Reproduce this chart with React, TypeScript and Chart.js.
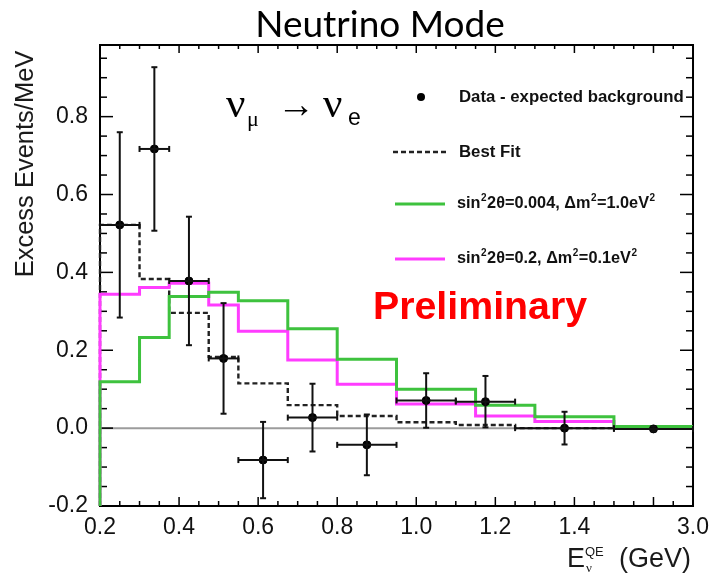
import React, { useEffect, useRef } from "react";
import { Chart, registerables } from "chart.js";
Chart.register(...registerables);

// X is displayed linearly up to 1.5 GeV; the last bin (1.5–3.0 GeV) is compressed into 1.5–1.7 on the axis.
const dataBinEdges = [0.2, 0.3, 0.375, 0.475, 0.55, 0.675, 0.8, 0.95, 1.1, 1.25, 1.5, 1.7];
const dataX = [0.25, 0.3375, 0.425, 0.5125, 0.6125, 0.7375, 0.875, 1.025, 1.175, 1.375, 1.6];
const dataY = [0.522, 0.717, 0.378, 0.179, -0.082, 0.027, -0.043, 0.071, 0.068, 0.0, -0.002];
const dataErr = [0.238, 0.21, 0.165, 0.142, 0.098, 0.087, 0.078, 0.07, 0.066, 0.042, 0.006];
const bestFit = [0.522, 0.383, 0.296, 0.183, 0.115, 0.059, 0.031, 0.015, 0.008, 0.0, 0.0];
const modelBinEdges = [0.2, 0.3, 0.375, 0.475, 0.55, 0.675, 0.8, 0.95, 1.15, 1.3, 1.5, 1.7];
const greenModel = [0.119, 0.233, 0.338, 0.349, 0.327, 0.255, 0.177, 0.1, 0.059, 0.029, 0.004];
const magentaModel = [0.344, 0.361, 0.372, 0.316, 0.249, 0.175, 0.113, 0.062, 0.031, 0.017, 0.002];
const xTickValues = [0.2, 0.4, 0.6, 0.8, 1.0, 1.2, 1.4, 1.7];
const xTickLabels = ["0.2", "0.4", "0.6", "0.8", "1.0", "1.2", "1.4", "3.0"];
const yTickValues = [-0.2, 0, 0.2, 0.4, 0.6, 0.8];
const yTickLabels = ["-0.2", "0.0", "0.2", "0.4", "0.6", "0.8"];
const seriesLabels = [
  "Data - expected background",
  "Best Fit",
  "sin²2θ=0.004, Δm²=1.0eV²",
  "sin²2θ=0.2, Δm²=0.1eV²",
];

const SANS = "'Liberation Sans', Arial, Helvetica, sans-serif";
const SERIF = "'Liberation Serif', 'Times New Roman', serif";
const GREEN = "#3ec23e";
const MAGENTA = "#ff3cff";

function histPoints(edges: number[], vals: number[], base: number) {
  const pts = [{ x: edges[0], y: base }];
  vals.forEach((v, i) => pts.push({ x: edges[i], y: v }));
  pts.push({ x: edges[edges.length - 1], y: vals[vals.length - 1] });
  return pts;
}

function line(ctx: CanvasRenderingContext2D, x1: number, y1: number, x2: number, y2: number) {
  ctx.beginPath();
  ctx.moveTo(x1, y1);
  ctx.lineTo(x2, y2);
  ctx.stroke();
}

// draw text with superscripts "²" rendered as small raised "2"
function drawRich(ctx: CanvasRenderingContext2D, text: string, x: number, y: number, size: number) {
  ctx.textBaseline = "middle";
  ctx.textAlign = "left";
  let cx = x;
  const parts = text.split("²");
  parts.forEach((p, i) => {
    ctx.font = `bold ${size}px ${SANS}`;
    ctx.fillText(p, cx, y);
    cx += ctx.measureText(p).width;
    if (i < parts.length - 1) {
      ctx.font = `bold ${Math.round(size * 0.6)}px ${SANS}`;
      ctx.fillText("2", cx + 0.5, y - size * 0.38);
      cx += ctx.measureText("2").width + 1;
    }
  });
}

const customPlugin = {
  id: "customDraw",
  beforeDatasetsDraw(chart: any) {
    const { ctx, chartArea: a, scales } = chart;
    const x = scales.x;
    const y = scales.y;
    ctx.save();
    // zero line
    const y0 = y.getPixelForValue(0);
    ctx.strokeStyle = "#9c9c9c";
    ctx.lineWidth = 2;
    line(ctx, a.left, y0, a.right, y0);
    // frame
    ctx.strokeStyle = "#000";
    ctx.lineWidth = 2;
    ctx.strokeRect(a.left, a.top, a.right - a.left, a.bottom - a.top);
    // x ticks (every 0.05, major every 0.2)
    ctx.lineWidth = 1.5;
    for (let i = 0; i <= 30; i++) {
      const v = 0.2 + i * 0.05;
      const px = x.getPixelForValue(v);
      const major = i % 4 === 0;
      line(ctx, px, a.bottom, px, a.bottom - (major ? 9 : 5));
      line(ctx, px, a.top, px, a.top + (major ? 8 : 4));
    }
    // y ticks
    for (let i = 0; i <= 23; i++) {
      const v = -0.2 + i * 0.05;
      const py = y.getPixelForValue(v);
      const major = i % 4 === 0;
      line(ctx, a.left, py, a.left + (major ? 13 : 7), py);
      line(ctx, a.right, py, a.right - (major ? 13 : 7), py);
    }
    ctx.restore();
  },
  afterDatasetsDraw(chart: any) {
    const { ctx, scales } = chart;
    const x = scales.x;
    const y = scales.y;
    ctx.save();
    ctx.strokeStyle = "#111";
    ctx.lineWidth = 2;
    dataX.forEach((xv, i) => {
      const px = x.getPixelForValue(xv);
      const py = y.getPixelForValue(dataY[i]);
      const pt = y.getPixelForValue(dataY[i] + dataErr[i]);
      const pb = y.getPixelForValue(dataY[i] - dataErr[i]);
      const pl = x.getPixelForValue(dataBinEdges[i]);
      const pr = x.getPixelForValue(dataBinEdges[i + 1]);
      line(ctx, px, pt, px, pb);
      line(ctx, px - 3, pt, px + 3, pt);
      line(ctx, px - 3, pb, px + 3, pb);
      line(ctx, pl, py, pr, py);
      line(ctx, pl, py - 3, pl, py + 3);
      line(ctx, pr, py - 3, pr, py + 3);
    });
    ctx.restore();
  },
  afterDraw(chart: any) {
    const { ctx } = chart;
    ctx.save();
    ctx.fillStyle = "#000";
    // title
    ctx.font = `37px Lato, 'Open Sans', sans-serif`;
    ctx.textAlign = "center";
    ctx.textBaseline = "alphabetic";
    ctx.fillText("Neutrino Mode", 380, 37);

    // legend
    ctx.beginPath();
    ctx.arc(421, 97, 4, 0, Math.PI * 2);
    ctx.fill();
    ctx.fillStyle = "#111";
    ctx.textAlign = "left";
    ctx.textBaseline = "middle";
    ctx.font = `bold 16.8px ${SANS}`;
    ctx.fillText(seriesLabels[0], 459, 97);
    ctx.fillText(seriesLabels[1], 459, 152);
    ctx.strokeStyle = "#222";
    ctx.lineWidth = 2.4;
    ctx.setLineDash([5, 3]);
    line(ctx, 393, 152, 447, 152);
    ctx.setLineDash([]);
    ctx.lineWidth = 3;
    ctx.strokeStyle = GREEN;
    line(ctx, 395, 204, 445, 204);
    ctx.strokeStyle = MAGENTA;
    line(ctx, 395, 259, 445, 259);
    drawRich(ctx, seriesLabels[2], 457, 204, 16.3);
    drawRich(ctx, seriesLabels[3], 457, 259, 16.3);

    // nu_mu -> nu_e
    ctx.fillStyle = "#000";
    ctx.textBaseline = "alphabetic";
    ctx.font = `43px ${SERIF}`;
    ctx.fillText("ν", 226, 117);
    ctx.fillText("ν", 323, 117);
    ctx.font = `22px ${SERIF}`;
    ctx.fillText("μ", 247, 126);
    ctx.font = `38px ${SERIF}`;
    ctx.fillText("→", 277, 117);
    ctx.font = `23px ${SANS}`;
    ctx.fillText("e", 348, 125);

    // Preliminary
    ctx.fillStyle = "#ff0000";
    ctx.font = `bold 39.3px ${SANS}`;
    ctx.fillText("Preliminary", 373, 319);

    // y axis title
    ctx.fillStyle = "#1a1a1a";
    ctx.save();
    ctx.translate(33, 164);
    ctx.rotate(-Math.PI / 2);
    ctx.textAlign = "center";
    ctx.font = `25.5px ${SANS}`;
    ctx.fillText("Excess Events/MeV", 0, 0);
    ctx.restore();

    // x axis title
    ctx.textAlign = "left";
    ctx.font = `27px ${SANS}`;
    ctx.fillText("E", 567, 567);
    ctx.font = `13px ${SANS}`;
    ctx.fillText("QE", 585, 556);
    ctx.font = `13px ${SERIF}`;
    ctx.fillText("ν", 586, 572);
    ctx.font = `27px ${SANS}`;
    ctx.fillText("(GeV)", 619, 567);
    ctx.restore();
  },
};

export default function App() {
  const ref = useRef<HTMLCanvasElement>(null);
  useEffect(() => {
    const canvas = ref.current!;
    const chart = new Chart(canvas, {
      type: "line",
      data: {
        datasets: [
          {
            label: seriesLabels[0],
            data: dataX.map((x, i) => ({ x, y: dataY[i] })),
            showLine: false,
            pointRadius: 4,
            pointBackgroundColor: "#000",
            pointBorderColor: "#000",
            borderColor: "#000",
            order: 0,
          },
          {
            label: seriesLabels[2],
            data: histPoints(modelBinEdges, greenModel, -0.2),
            stepped: "before",
            borderColor: GREEN,
            borderWidth: 3,
            pointRadius: 0,
            fill: false,
            clip: false,
            order: 1,
          },
          {
            label: seriesLabels[3],
            data: histPoints(modelBinEdges, magentaModel, -0.2),
            stepped: "before",
            borderColor: MAGENTA,
            borderWidth: 3,
            pointRadius: 0,
            fill: false,
            clip: false,
            order: 2,
          },
          {
            label: seriesLabels[1],
            data: histPoints(dataBinEdges, bestFit, -0.2),
            stepped: "before",
            borderColor: "#222",
            borderWidth: 2.4,
            borderDash: [5, 3],
            pointRadius: 0,
            fill: false,
            clip: false,
            order: 3,
          },
        ],
      } as any,
      options: {
        animation: false,
        responsive: false,
        layout: { padding: { left: 0, right: 20, top: 45, bottom: 0 } },
        plugins: { legend: { display: false }, tooltip: { enabled: false }, title: { display: false } },
        scales: {
          x: {
            type: "linear",
            min: 0.2,
            max: 1.7,
            grid: { display: false, drawTicks: false },
            border: { display: false },
            afterBuildTicks: (s: any) => {
              s.ticks = xTickValues.map((v) => ({ value: v }));
            },
            afterFit: (s: any) => {
              s.height = 68;
            },
            ticks: {
              autoSkip: false,
              maxRotation: 0,
              padding: 8,
              color: "#111",
              font: { family: SANS, size: 23 },
              callback: (v: any) => {
                const i = xTickValues.findIndex((t) => Math.abs(t - v) < 1e-6);
                return i >= 0 ? xTickLabels[i] : "";
              },
            },
          },
          y: {
            type: "linear",
            min: -0.2,
            max: 0.984,
            grid: { display: false, drawTicks: false },
            border: { display: false },
            afterBuildTicks: (s: any) => {
              s.ticks = yTickValues.map((v) => ({ value: v }));
            },
            afterFit: (s: any) => {
              s.width = 100;
            },
            ticks: {
              autoSkip: false,
              padding: 12,
              color: "#111",
              font: { family: SANS, size: 23 },
              callback: (v: any) => {
                const i = yTickValues.findIndex((t) => Math.abs(t - v) < 1e-6);
                return i >= 0 ? yTickLabels[i] : "";
              },
            },
          },
        },
      } as any,
      plugins: [customPlugin],
    });
    return () => chart.destroy();
  }, []);
  return (
    <div style={{ position: "absolute", left: 0, top: 0, width: 717, height: 574, background: "#fff" }}>
      <canvas ref={ref} width={717} height={574} style={{ display: "block" }} />
    </div>
  );
}
